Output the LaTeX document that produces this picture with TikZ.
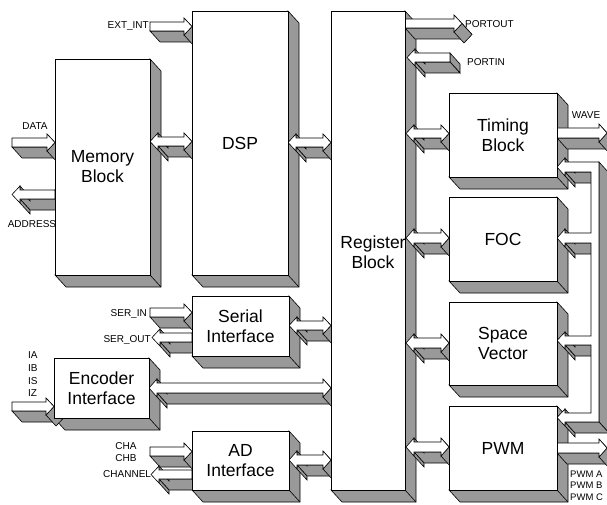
\documentclass[tikz,border=0pt]{standalone}
\usepackage{fontspec}
\setmainfont{Liberation Sans}
\usetikzlibrary{calc}
\pgfdeclarelayer{sides}
\pgfdeclarelayer{links}
\pgfsetlayers{sides,links,main}
\definecolor{sidegray}{RGB}{153,153,153}
\tikzset{
  face/.style={fill=white, draw=black, line width=0.6pt, line join=miter},
  shade3d/.style={fill=sidegray, draw=black, line width=0.6pt, line join=miter},
  blockfont/.style={font=\fontsize{17.5}{20}\selectfont},
  block/.style={draw, fill=white, line width=0.6pt, outer sep=0pt, inner sep=0pt,
    anchor=north west, align=center, blockfont},
  sig/.style={inner sep=0pt, font=\fontsize{10}{12}\selectfont},
  pwmsig/.style={inner sep=0pt, anchor=west, font=\fontsize{9.5}{11}\selectfont},
}
% depth of the blocks and of the flat arrows
\def\bx{11}\def\by{12}
\def\ex{10}\def\ey{11}
% arrow head length and barb width
\def\hl{8}\def\bw{4}
% one extruded side face along the edge (#1,#2)--(#3,#4)
\newcommand\quadface[4]{%
  \path[shade3d] (#1,#2) -- (#3,#4) -- ++(\ex,\ey) -- ++({(#1)-(#3)},{(#2)-(#4)}) -- cycle;}
% block side faces (right and bottom)
\newcommand\blocksides[1]{%
  \path[shade3d] (#1.north east) -- ++(\bx,\by) -- ($(#1.south east)+(\bx,\by)$)
    -- ($(#1.south west)+(\bx,\by)$) -- (#1.south west) -- (#1.south east) -- cycle;
  \draw[line width=0.6pt] (#1.south east) -- ++(\bx,\by);}
% flat 3D arrow pointing right: tail x, tip x, top y, thickness
\newcommand\rarrow[4]{%
  \pgfmathsetmacro\xh{#2-\hl}\pgfmathsetmacro\ym{#3+#4/2}%
  \pgfmathsetmacro\yb{#3+#4}\pgfmathsetmacro\yc{#3-\bw}\pgfmathsetmacro\yd{#3+#4+\bw}%
  \quadface{\xh}{\yb}{#1}{\yb}
  \quadface{\xh}{\yc}{#2}{\ym}
  \quadface{#2}{\ym}{\xh}{\yd}
  \path[face] (#1,#3) -- (\xh,#3) -- (\xh,\yc) -- (#2,\ym) -- (\xh,\yd) -- (\xh,\yb) -- (#1,\yb) -- cycle;}
% flat 3D arrow pointing left: tip x, tail x, top y, thickness
\newcommand\larrow[4]{%
  \pgfmathsetmacro\xh{#1+\hl}\pgfmathsetmacro\ym{#3+#4/2}%
  \pgfmathsetmacro\yb{#3+#4}\pgfmathsetmacro\yc{#3-\bw}\pgfmathsetmacro\yd{#3+#4+\bw}%
  \quadface{#2}{#3}{#2}{\yb}
  \quadface{#2}{\yb}{\xh}{\yb}
  \quadface{\xh}{\yb}{\xh}{\yd}
  \quadface{\xh}{\yc}{\xh}{#3}
  \path[face] (#1,\ym) -- (\xh,\yc) -- (\xh,#3) -- (#2,#3) -- (#2,\yb) -- (\xh,\yb) -- (\xh,\yd) -- cycle;}
% flat 3D double arrow: left tip x, right tip x, top y, thickness
\newcommand\darrow[4]{%
  \pgfmathsetmacro\xl{#1+\hl}\pgfmathsetmacro\xr{#2-\hl}\pgfmathsetmacro\ym{#3+#4/2}%
  \pgfmathsetmacro\yb{#3+#4}\pgfmathsetmacro\yc{#3-\bw}\pgfmathsetmacro\yd{#3+#4+\bw}%
  \quadface{\xr}{\yb}{\xl}{\yb}
  \quadface{\xl}{\yb}{\xl}{\yd}
  \quadface{\xl}{\yc}{\xl}{#3}
  \quadface{\xr}{\yc}{#2}{\ym}
  \quadface{#2}{\ym}{\xr}{\yd}
  \path[face] (#1,\ym) -- (\xl,\yc) -- (\xl,#3) -- (\xr,#3) -- (\xr,\yc) -- (#2,\ym)
    -- (\xr,\yd) -- (\xr,\yb) -- (\xl,\yb) -- (\xl,\yd) -- cycle;}
\begin{document}
\begin{tikzpicture}[x=1pt,y=-1pt]
\useasboundingbox (0,0) rectangle (607,505);

% ---- functional blocks ----
\node[block, minimum width=95pt, minimum height=216pt] (mem) at (55,59) {Memory\\Block};
\node[block, minimum width=96pt, minimum height=264pt] (dsp) at (192,11) {DSP};
\node[block, minimum width=74pt, minimum height=479pt] (reg) at (331,11) {};
\node[blockfont, align=center, inner sep=0pt] (reglabel) at (373,252) {Register\\Block};
\node[block, minimum width=97pt, minimum height=60pt] (ser) at (192,296) {Serial\\Interface};
\node[block, minimum width=95pt, minimum height=60pt] (enc) at (54,358) {Encoder\\Interface};
\node[block, minimum width=97pt, minimum height=59pt] (ad) at (192,431) {AD\\Interface};
\node[block, minimum width=108pt, minimum height=84pt] (tim) at (449,93) {Timing\\Block};
\node[block, minimum width=108pt, minimum height=84pt] (foc) at (449,197) {FOC};
\node[block, minimum width=108pt, minimum height=83pt] (sv) at (449,302) {Space\\Vector};
\node[block, minimum width=108pt, minimum height=84pt] (pwm) at (449,406) {PWM};

\begin{pgfonlayer}{sides}
  \foreach \b in {mem,dsp,reg,ser,enc,ad,tim,foc,sv,pwm} {\blocksides{\b}}
\end{pgfonlayer}

\begin{pgfonlayer}{links}
  % signal names
  \node[sig, anchor=east] (extint) at (149,26) {EXT\_INT};
  \node[sig] (data) at (35,126) {DATA};
  \node[sig] (address) at (32,224) {ADDRESS};
  \node[sig, anchor=east] (serin) at (147,314) {SER\_IN};
  \node[sig, anchor=east] (serout) at (151,340) {SER\_OUT};
  \node[sig, anchor=west] (ia) at (28,355) {IA};
  \node[sig, anchor=west] (ib) at (28,368) {IB};
  \node[sig, anchor=west] (is) at (28,381) {IS};
  \node[sig, anchor=west] (iz) at (28,393) {IZ};
  \node[sig] (cha) at (126,446) {CHA};
  \node[sig] (chb) at (126,458) {CHB};
  \node[sig, anchor=west] (channel) at (103,474) {CHANNEL};
  \node[sig, anchor=west] (portout) at (465,24) {PORTOUT};
  \node[sig, anchor=west] (portin) at (467,62) {PORTIN};
  \node[sig] (wave) at (586,115) {WAVE};
  \node[pwmsig] (pwma) at (570,474) {PWM A};
  \node[pwmsig] (pwmb) at (570,485.5) {PWM B};
  \node[pwmsig] (pwmc) at (570,497) {PWM C};

  % left side buses
  \rarrow{150}{192}{22}{9}
  \rarrow{12}{55}{138}{9}
  \larrow{12}{55}{190}{9}
  \darrow{150}{192}{137}{9}
  \darrow{288}{331}{138}{9}
  \rarrow{150}{192}{308}{9}
  \larrow{152}{192}{333}{9}
  \darrow{289}{331}{321}{9}
  \rarrow{12}{54}{402}{9}
  \darrow{149}{331}{383}{10}
  \rarrow{150}{192}{447}{9}
  \larrow{151}{192}{470}{9}
  \darrow{289}{331}{455}{10}

  % register block ports and internal buses
  \rarrow{405}{462}{19}{9}
  \larrow{407}{450}{53}{9}
  \darrow{406}{449}{129}{9}
  \darrow{406}{449}{233}{10}
  \darrow{406}{449}{338}{10}
  \darrow{406}{449}{442}{10}

  % outputs
  \rarrow{557}{607}{128}{10}
  \rarrow{557}{607}{443}{10}

  % feedback bus along the right edge
  \quadface{591}{172}{565}{172}
  \quadface{591}{243}{565}{243}
  \quadface{591}{345}{565}{345}
  \quadface{565}{172}{565}{176}
  \quadface{565}{243}{565}{247}
  \quadface{565}{345}{565}{349}
  \quadface{565}{422}{565}{426}
  \quadface{565}{158}{565}{162}
  \quadface{565}{229}{565}{233}
  \quadface{565}{332}{565}{336}
  \quadface{565}{409}{565}{413}
  \quadface{599}{162}{599}{422}
  \quadface{599}{422}{565}{422}
  \path[face] (557,167) -- (565,158) -- (565,162) -- (599,162) -- (599,422)
    -- (565,422) -- (565,426) -- (557,417.5) -- (565,409) -- (565,413) -- (591,413)
    -- (591,345) -- (565,345) -- (565,349) -- (557,340.5) -- (565,332) -- (565,336)
    -- (591,336) -- (591,243) -- (565,243) -- (565,247) -- (557,238) -- (565,229)
    -- (565,233) -- (591,233) -- (591,172) -- (565,172) -- (565,176) -- cycle;
\end{pgfonlayer}
\end{tikzpicture}
\end{document}
